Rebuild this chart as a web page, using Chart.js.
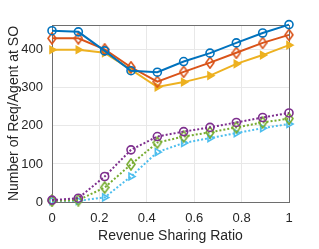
<!DOCTYPE html>
<html>
<head>
<meta charset="utf-8">
<script src="https://cdn.jsdelivr.net/npm/chart.js@4/dist/chart.umd.min.js"></script>
<style>
  html, body { margin: 0; padding: 0; background: #fff; }
  #wrap { width: 319px; height: 249px; }
</style>
</head>
<body>
<div id="wrap"><canvas id="c" width="319" height="249"></canvas></div>
<script>
// revenue sharing ratio, 10 steps from 0 to 1
const ratios = [0, 1/9, 2/9, 3/9, 4/9, 5/9, 6/9, 7/9, 8/9, 1];
const xTicks = [0, 0.2, 0.4, 0.6, 0.8, 1];
const yTicks = [0, 100, 200, 300, 400];

// solid lines
const blueVals   = [450, 447, 397, 345, 341, 369, 391, 418, 444, 466];
const orangeVals = [430, 430, 401, 354, 316, 342, 366, 392, 418, 439];
const yellowVals = [400, 400, 392, 348, 302, 315, 332, 363, 386, 412];
// dotted lines
const purpleVals = [5, 10, 67, 137, 172, 185, 196, 209, 222, 234];
const greenVals  = [3, 5, 38, 99, 156, 172, 183, 196, 209, 219];
const cyanVals   = [3, 3, 12, 67, 131, 155, 168, 181, 194, 205];

const textColor = "#262626";

// narrow matlab-like diamond marker
function diamond(color) {
  const cv = document.createElement("canvas");
  cv.width = 10; cv.height = 13;
  const g = cv.getContext("2d");
  g.strokeStyle = color;
  g.lineWidth = 1.6;
  g.beginPath();
  g.moveTo(5, 1); g.lineTo(9, 6.5); g.lineTo(5, 12); g.lineTo(1, 6.5); g.closePath();
  g.stroke();
  return cv;
}

function series(vals, color, style, dotted, filled) {
  return {
    data: vals.map((v, i) => ({ x: ratios[i], y: v })),
    borderColor: color,
    backgroundColor: filled ? color : "rgba(255,255,255,0)",
    borderWidth: 2,
    borderDash: dotted ? [2, 2] : [],
    pointStyle: style === "diamond" ? diamond(color) : style,
    pointRotation: style === "triangle" ? 90 : 0,
    pointRadius: 4,
    pointBorderWidth: 1.6,
    pointBorderColor: color,
    pointBackgroundColor: filled ? color : "rgba(255,255,255,0)",
    tension: 0,
    fill: false,
    clip: false
  };
}

const boxPlugin = {
  id: "box",
  beforeDatasetsDraw(chart) {
    const a = chart.chartArea;
    const c = chart.ctx;
    c.save();
    c.strokeStyle = "#6e6e6e";
    c.lineWidth = 1;
    c.strokeRect(a.left + 0.5, a.top + 0.5, a.right - a.left, a.bottom - a.top);
    c.restore();
  }
};

new Chart(document.getElementById("c"), {
  type: "line",
  data: {
    datasets: [
      series(blueVals, "#0072BD", "circle", false, false),
      series(orangeVals, "#D95319", "diamond", false, false),
      series(yellowVals, "#EDB120", "triangle", false, true),
      series(purpleVals, "#7E2F8E", "circle", true, false),
      series(greenVals, "#77AC30", "diamond", true, false),
      series(cyanVals, "#4DBEEE", "triangle", true, false)
    ]
  },
  options: {
    responsive: false,
    animation: false,
    layout: { padding: { top: 25, right: 30, left: 0, bottom: 0 } },
    plugins: { legend: { display: false }, tooltip: { enabled: false } },
    scales: {
      x: {
        type: "linear",
        min: 0,
        max: 1,
        afterBuildTicks: s => { s.ticks = xTicks.map(v => ({ value: v })); },
        afterFit: s => { s.height = 47; },
        grid: { color: "#e8e8e8", drawTicks: false },
        border: { color: "#6e6e6e" },
        ticks: {
          padding: 9,
          color: textColor,
          font: { family: "Liberation Sans", size: 13 },
          callback: v => String(Math.round(v * 10) / 10)
        },
        title: {
          display: true,
          text: "Revenue Sharing Ratio",
          color: textColor,
          font: { family: "Liberation Sans", size: 14 },
          padding: { top: 4, bottom: 4 }
        }
      },
      y: {
        min: 0,
        max: 465,
        afterBuildTicks: s => { s.ticks = yTicks.map(v => ({ value: v })); },
        afterFit: s => { s.width = 52; },
        grid: { color: "#e8e8e8", drawTicks: false },
        border: { color: "#6e6e6e" },
        ticks: {
          padding: 9,
          color: textColor,
          font: { family: "Liberation Sans", size: 13 }
        },
        title: {
          display: true,
          text: "Number of Req/Agent at SO",
          color: textColor,
          font: { family: "Liberation Sans", size: 14 },
          padding: { top: 6, bottom: 0 }
        }
      }
    }
  },
  plugins: [boxPlugin]
});
</script>
</body>
</html>
